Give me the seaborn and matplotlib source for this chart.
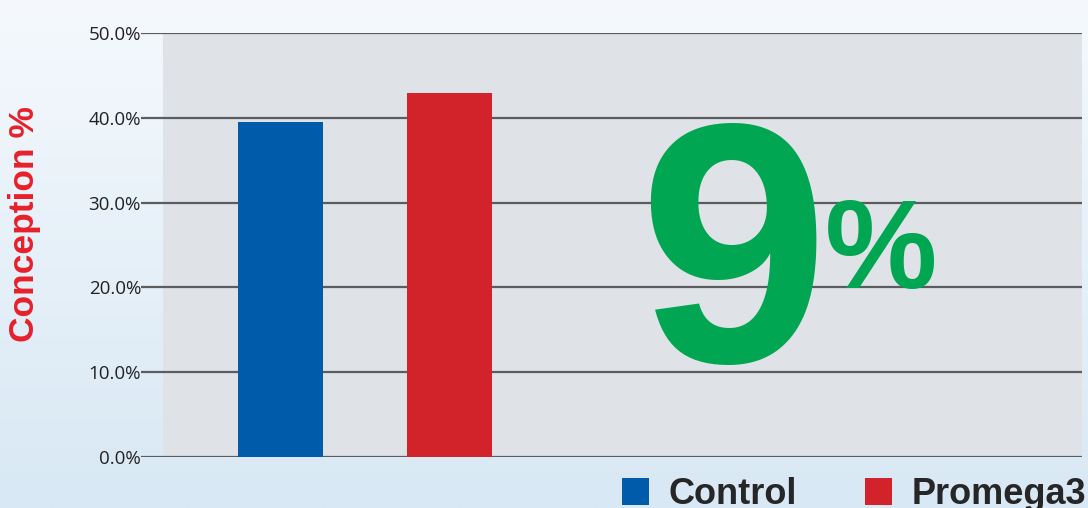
import numpy as np
import pandas as pd
import seaborn as sns
import matplotlib.pyplot as plt
from matplotlib.patches import Rectangle

#--> data
groups = ["Control", "Promega3"]
conception = [39.5, 42.9]
bar_colors = ["#005bab", "#d2232a"]
y_ticks = [0, 10, 20, 30, 40, 50]
big_number = "9"
big_unit = "%"

sns.set_theme(style="white")
plt.rcParams['font.family'] = ['Liberation Sans', 'DejaVu Sans']

W, H = 1088, 508
fig = plt.figure(figsize=(W / 100, H / 100), dpi=100)

# soft blue page background
bg = fig.add_axes([0, 0, 1, 1], zorder=-10)
grad = np.linspace(0, 1, 256)[:, None] * np.ones((1, 16))
bg.imshow(grad, aspect="auto", cmap=sns.blend_palette(["#f5f9fd", "#d8e8f4"], as_cmap=True),
          extent=[0, 1, 0, 1], origin="upper")
bg.axis("off")

# plot area in pixel terms
left, right, top, bottom = 141, 1082, 33, 457
ax = fig.add_axes([left / W, 1 - bottom / H, (right - left) / W, (bottom - top) / H])
ax.set_facecolor("none")
ax.add_patch(Rectangle(((163 - left) / (right - left), 0), 1, 1, transform=ax.transAxes,
                       facecolor="#dfe3e7", edgecolor="none", zorder=0))

df = pd.DataFrame({"group": groups, "conception": conception})
sns.barplot(data=df, x="group", y="conception", hue="group", palette=bar_colors,
            width=0.5, saturation=1, legend=True, ax=ax, zorder=3, linewidth=0)

ax.set_xlim(-0.825, 4.743)
ax.set_ylim(0, 50)
ax.set_yticks(y_ticks)
ax.set_yticklabels([f"{t:.1f}%" for t in y_ticks], fontsize=13.5, color="#222222",
                   family=["Open Sans", "DejaVu Sans"])
ax.tick_params(axis="y", length=0, pad=0)
ax.yaxis.grid(True, color="#5a5c60", linewidth=1.6, zorder=1)
ax.set_axisbelow(True)
ax.set_xticks([])
ax.set_xlabel("")
ax.set_ylabel("")
for s in ax.spines.values():
    s.set_visible(False)

fig.text(25 / W, 1 - 224 / H, "Conception %", rotation=90, color="#e8202a",
         fontsize=25.5, fontweight="bold", ha="center", va="center")

# big callout
fig.text(638 / W, 1 - 362 / H, big_number, color="#00a651", fontsize=246,
         fontweight="bold", ha="left", va="baseline")
fig.text(825 / W, 1 - 288 / H, big_unit, color="#00a651", fontsize=91,
         fontweight="bold", ha="left", va="baseline")

# legend along the bottom
handles, labels = ax.get_legend_handles_labels()
ax.get_legend().remove()
fig.legend(handles, labels, ncol=2, loc="upper left", bbox_to_anchor=(622 / W, 1 - 477 / H),
           frameon=False, prop={"weight": "bold", "size": 26},
           handlelength=0.75, handleheight=0.75, handletextpad=0.53,
           columnspacing=1.9, borderpad=0, borderaxespad=0)

fig.savefig("out.png", dpi=100)
